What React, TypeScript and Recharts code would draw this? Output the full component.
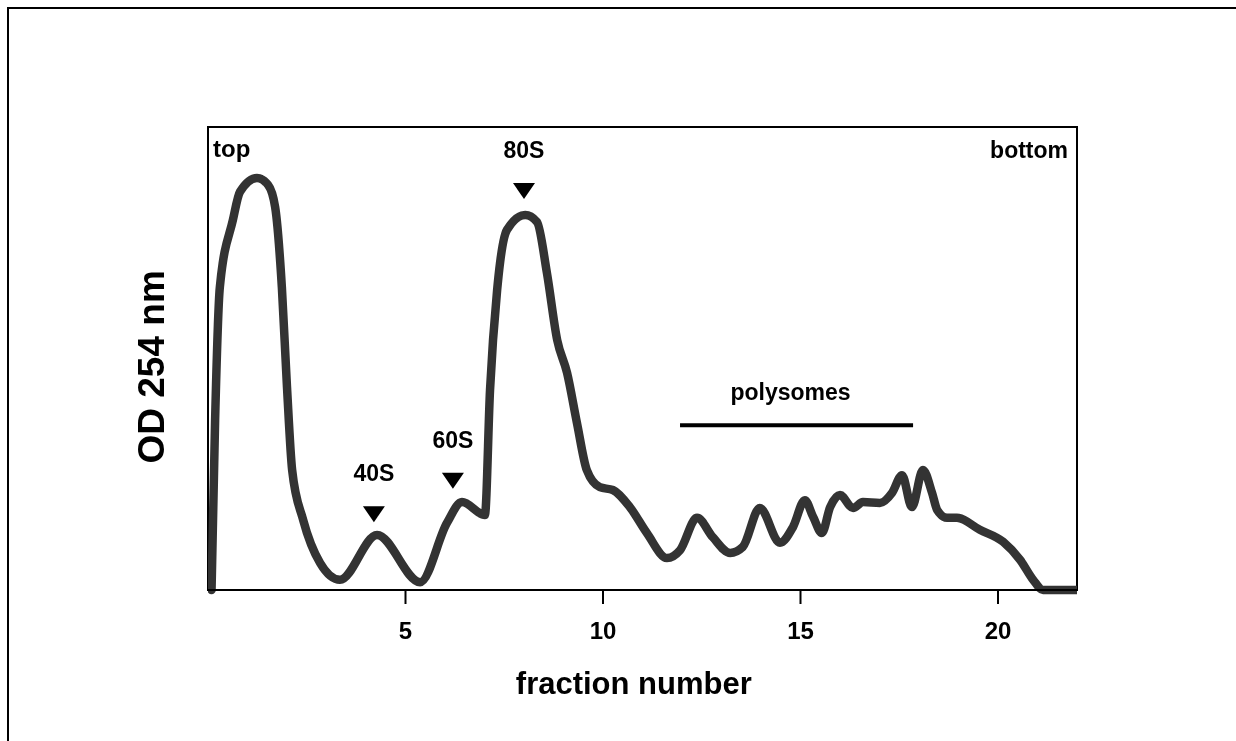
import React from 'react'
import { LineChart, Line, XAxis, YAxis, ReferenceArea, ReferenceDot, ReferenceLine } from 'recharts'

// absorbance trace
const fraction = [
  0.09, 0.18, 0.3, 0.63, 0.81, 1.24, 1.52, 1.7, 1.87, 2.0, 2.13, 2.41, 2.84, 3.34, 4.28, 5.37, 6.05, 6.43,
  7.01, 7.14, 7.32, 7.57, 8.03, 8.33, 8.58, 8.84, 9.09, 9.34, 9.59, 9.92, 10.25, 10.68, 11.11, 11.62, 11.95,
  12.38, 12.78, 13.22, 13.54, 13.97, 14.48, 14.81, 15.11, 15.32, 15.54, 15.75, 16.0, 16.33, 16.58, 17.01,
  17.32, 17.57, 17.82, 18.1, 18.33, 18.46, 18.71, 18.96, 19.54, 20.13, 20.56, 20.89, 21.14, 22.0,
]
const od254 = [
  0, 36.7, 65.4, 79.9, 86.0, 89.0, 87.5, 82.7, 65.4, 43.8, 25.9, 15.1, 5.8, 2.2, 11.9, 1.7, 14.5, 19.0,
  16.2, 43.2, 64.8, 77.8, 81.0, 79.5, 68.5, 54.0, 46.9, 36.1, 25.9, 22.2, 21.6, 17.9, 12.3, 6.9, 8.6,
  15.6, 11.4, 8.0, 9.3, 17.7, 10.2, 13.6, 19.4, 15.8, 12.3, 17.9, 20.5, 17.7, 19.0, 18.8,
  21.0, 24.8, 17.9, 25.9, 21.0, 17.3, 15.6, 15.6, 13.0, 10.4, 6.5, 2.2, 0, 0,
]
const xTicks = [5, 10, 15, 20]

// ribosome markers: label, fraction, height of the arrowhead
const peakLabels = ['40S', '60S', '80S']
const peakX = [4.2, 6.2, 8.0]
const peakY = [18.1, 25.3, 87.9]

const polysomeRange = [11.95, 17.85]
const polysomeLevel = 35.6

const data = fraction.map((x, i) => ({ x, od: od254[i] }))

const FONT = '"Liberation Sans", Arial, Helvetica, sans-serif'

export default function App() {
  return (
    <div style={{ position: 'relative', width: 1200, height: 720, fontFamily: FONT }}>
      {/* outer frame: only the left and top edges fall inside the picture */}
      <div
        style={{
          position: 'fixed',
          left: 7,
          top: 7,
          width: 1300,
          height: 800,
          borderLeft: '2px solid #000',
          borderTop: '2px solid #000',
          boxSizing: 'border-box',
          pointerEvents: 'none',
        }}
      />
      <div style={{ position: 'absolute', left: 0, top: 0 }}>
        <LineChart
          width={1200}
          height={720}
          data={data}
          accessibilityLayer={false}
          style={{ outline: 'none' }}
          margin={{ top: 119, right: 131, left: 200, bottom: 78 }}
        >
          <XAxis
            dataKey="x"
            type="number"
            domain={[0, 22]}
            ticks={xTicks}
            height={60}
            stroke="#000"
            strokeWidth={2}
            tickSize={14}
            tickMargin={18}
            tick={{ fill: '#000', fontSize: 24, fontWeight: 700, fontFamily: FONT }}
            allowDataOverflow
          />
          <YAxis type="number" domain={[0, 100]} hide />
          <ReferenceArea x1={0} x2={22} y1={0} y2={100} fill="none" stroke="#000" strokeWidth={2} />
          <ReferenceLine
            segment={[
              { x: polysomeRange[0], y: polysomeLevel },
              { x: polysomeRange[1], y: polysomeLevel },
            ]}
            stroke="#000"
            strokeWidth={4}
          />
          <Line
            type="monotone"
            dataKey="od"
            stroke="#333333"
            strokeWidth={8.5}
            strokeLinejoin="round"
            strokeLinecap="round"
            dot={false}
            isAnimationActive={false}
          />
          {peakLabels.map((name, i) => (
            <ReferenceDot
              key={name}
              x={peakX[i]}
              y={peakY[i]}
              r={0}
              ifOverflow="visible"
              shape={(p: any) => (
                <g>
                  <path d={`M${p.cx - 11},${p.cy} L${p.cx + 11},${p.cy} L${p.cx},${p.cy + 16} Z`} fill="#000" />
                  <text x={p.cx} y={p.cy - 25} textAnchor="middle" fontSize={23} fontWeight={700} fontFamily={FONT} fill="#000">
                    {name}
                  </text>
                </g>
              )}
            />
          ))}
          <ReferenceDot
            x={(polysomeRange[0] + polysomeRange[1]) / 2}
            y={polysomeLevel}
            r={0}
            ifOverflow="visible"
            shape={(p: any) => (
              <text x={p.cx - 6} y={p.cy - 25} textAnchor="middle" fontSize={23} fontWeight={700} fontFamily={FONT} fill="#000">
                polysomes
              </text>
            )}
          />
          <ReferenceDot
            x={0}
            y={100}
            r={0}
            ifOverflow="visible"
            shape={(p: any) => (
              <text x={p.cx + 5} y={p.cy + 30} textAnchor="start" fontSize={24} fontWeight={700} fontFamily={FONT} fill="#000">
                top
              </text>
            )}
          />
          <ReferenceDot
            x={22}
            y={100}
            r={0}
            ifOverflow="visible"
            shape={(p: any) => (
              <text x={p.cx - 9} y={p.cy + 31} textAnchor="end" fontSize={23} fontWeight={700} fontFamily={FONT} fill="#000">
                bottom
              </text>
            )}
          />
          <ReferenceDot
            x={10.78}
            y={-20.1}
            r={0}
            ifOverflow="visible"
            shape={(p: any) => (
              <text x={p.cx} y={p.cy} textAnchor="middle" dominantBaseline="central" fontSize={31} fontWeight={700} fontFamily={FONT} fill="#000">
                fraction number
              </text>
            )}
          />
          <ReferenceDot
            x={-1.42}
            y={48.2}
            r={0}
            ifOverflow="visible"
            shape={(p: any) => (
              <text
                x={p.cx}
                y={p.cy}
                textAnchor="middle"
                dominantBaseline="central"
                transform={`rotate(-90 ${p.cx} ${p.cy})`}
                fontSize={37}
                fontWeight={700}
                fontFamily={FONT}
                fill="#000"
              >
                OD 254 nm
              </text>
            )}
          />
        </LineChart>
      </div>
    </div>
  )
}
